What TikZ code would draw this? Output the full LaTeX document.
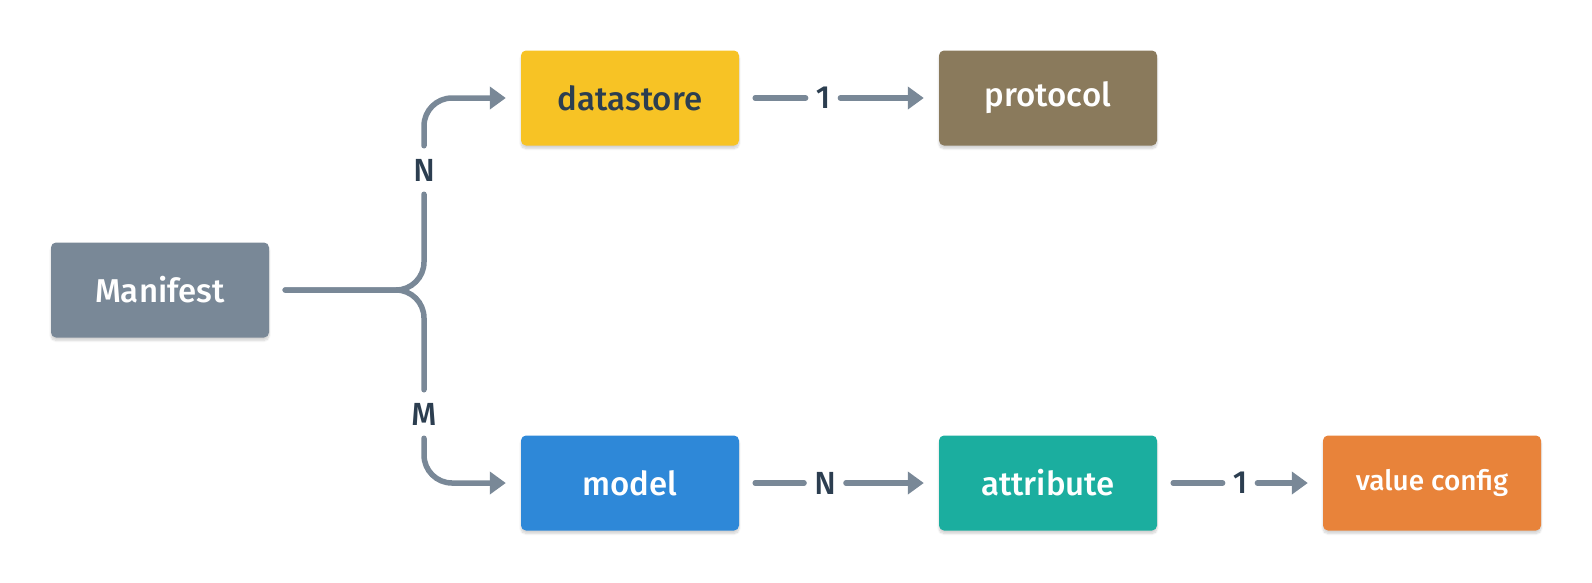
\documentclass[tikz,border=0pt]{standalone}
\usepackage{fontspec}
\setmainfont{Fira Sans}
\newfontfamily\boxfont{Fira Sans Medium}
\usetikzlibrary{arrows.meta,shadows.blur}

\definecolor{slate}{HTML}{798897}
\definecolor{ink}{HTML}{2C3E50}
\definecolor{manifestgray}{HTML}{798897}
\definecolor{storeyellow}{HTML}{F7C325}
\definecolor{protobrown}{HTML}{8A7A5C}
\definecolor{modelblue}{HTML}{2E88D8}
\definecolor{attrteal}{HTML}{1BAE9F}
\definecolor{valorange}{HTML}{E8833A}

\begin{document}
\begin{tikzpicture}[
        x=1pt, y=-1pt,
        box/.style={minimum width=218pt, minimum height=95pt, rounded corners=5pt,
            font=\boxfont\fontsize{33}{38}\selectfont, text=white,
            blur shadow={shadow xshift=0pt, shadow yshift=-3pt, shadow blur steps=8, shadow opacity=18}},
        card/.style={font=\boxfont\fontsize{32}{38}\selectfont, text=ink, inner sep=1pt},
        link/.style={line width=5.5pt, draw=slate, line cap=round},
        arrow/.style={link, -{Triangle[length=16pt,width=22pt]}, shorten >=15pt}
    ]
        \useasboundingbox (0,0) rectangle (1592,582);

        % Boxes
        \node[box, fill=manifestgray] (manifest) at (160, 290) {Manifest};
        \node[box, fill=storeyellow, text=ink] (datastore) at (630, 98) {datastore};
        \node[box, fill=protobrown] (protocol) at (1048, 98) {protocol};
        \node[box, fill=modelblue] (model) at (630, 483) {model};
        \node[box, fill=attrteal] (attribute) at (1048, 483) {attribute};
        \node[box, fill=valorange, font=\boxfont\fontsize{28}{33}\selectfont] (valueconfig) at (1432, 483) {value config};

        % Cardinalities
        \node[card] (nlab) at (424, 170) {N};
        \node[card] (mlab) at (424, 414) {M};
        \node[card] (dsone) at (823, 98) {1};
        \node[card] (mdn) at (825, 483) {N};
        \node[card] (atone) at (1240, 483) {1};

        % Manifest fork
        \draw[link, rounded corners=28pt, shorten <=16pt, shorten >=12pt] (manifest.east) -| (nlab.south);
        \draw[link, rounded corners=28pt, shorten <=16pt, shorten >=12pt] (manifest.east) -| (mlab.north);
        \draw[arrow, rounded corners=28pt, shorten <=12pt] (nlab.north) |- (datastore.west);
        \draw[arrow, rounded corners=28pt, shorten <=12pt] (mlab.south) |- (model.west);

        % Top row
        \draw[link, shorten <=16pt, shorten >=9pt] (datastore.east) -- (dsone.west);
        \draw[arrow, shorten <=9pt] (dsone.east) -- (protocol.west);

        % Bottom row
        \draw[link, shorten <=16pt, shorten >=9pt] (model.east) -- (mdn.west);
        \draw[arrow, shorten <=9pt] (mdn.east) -- (attribute.west);
        \draw[link, shorten <=16pt, shorten >=9pt] (attribute.east) -- (atone.west);
        \draw[arrow, shorten <=9pt] (atone.east) -- (valueconfig.west);
    \end{tikzpicture}
\end{document}
